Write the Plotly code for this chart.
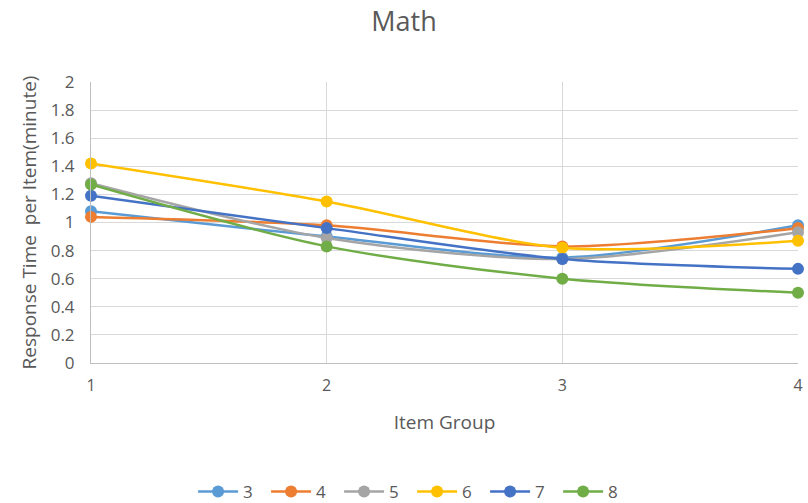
import plotly.graph_objects as go

item_groups = [1, 2, 3, 4]
series_names = ["3", "4", "5", "6", "7", "8"]
grade3 = [1.08, 0.90, 0.75, 0.98]
grade4 = [1.04, 0.98, 0.83, 0.96]
grade5 = [1.28, 0.89, 0.74, 0.93]
grade6 = [1.42, 1.15, 0.82, 0.87]
grade7 = [1.19, 0.96, 0.74, 0.67]
grade8 = [1.27, 0.83, 0.60, 0.50]

values = [grade3, grade4, grade5, grade6, grade7, grade8]
colors = ["#5B9BD5", "#ED7D31", "#A5A5A5", "#FFC000", "#4472C4", "#70AD47"]

font = "'Open Sans', Lato, sans-serif"

fig = go.Figure()
for name, ys, c in zip(series_names, values, colors):
    fig.add_trace(go.Scatter(x=item_groups, y=ys, name=name,
                             mode='lines+markers',
                             line=dict(color=c, width=2.5, shape='spline', smoothing=0.8),
                             marker=dict(color=c, size=12),
                             cliponaxis=False))

fig.update_layout(
    width=808, height=503,
    paper_bgcolor='white', plot_bgcolor='white',
    margin=dict(l=91, r=10, t=82, b=140, autoexpand=False),
    font=dict(family=font, color='#595959', size=16),
    title=dict(text='Math', x=0.5, xanchor='center', y=0.958, yanchor='middle',
               font=dict(size=27, color='#595959')),
    showlegend=True,
    legend=dict(orientation='h', xref='container', x=0.51, xanchor='center',
                y=-0.459, yanchor='middle',
                font=dict(size=17, color='#595959'), itemwidth=40,
                entrywidth=18, entrywidthmode='pixels'),
    xaxis=dict(range=[1, 4], tickvals=item_groups, showgrid=True, gridcolor='#D9D9D9',
               gridwidth=1, zeroline=False, showline=True, linecolor='#BFBFBF', ticks='',
               ticklabelstandoff=8,
               title=dict(text='Item Group', font=dict(size=19), standoff=20),
               tickfont=dict(size=16)),
    yaxis=dict(range=[0, 2], dtick=0.2, showgrid=True, gridcolor='#D9D9D9', gridwidth=1,
               zeroline=False, showline=True, linecolor='#BFBFBF', ticks='', tickformat='~g',
               ticklabelstandoff=12,
               title=dict(text='Response Time  per Item(minute)', font=dict(size=19), standoff=9),
               tickfont=dict(size=17)),
)

# drop the browser's default body margin so the figure fills the window
fig.write_html("out.html", config={'displayModeBar': False},
               post_script="document.body.style.margin='0';")
